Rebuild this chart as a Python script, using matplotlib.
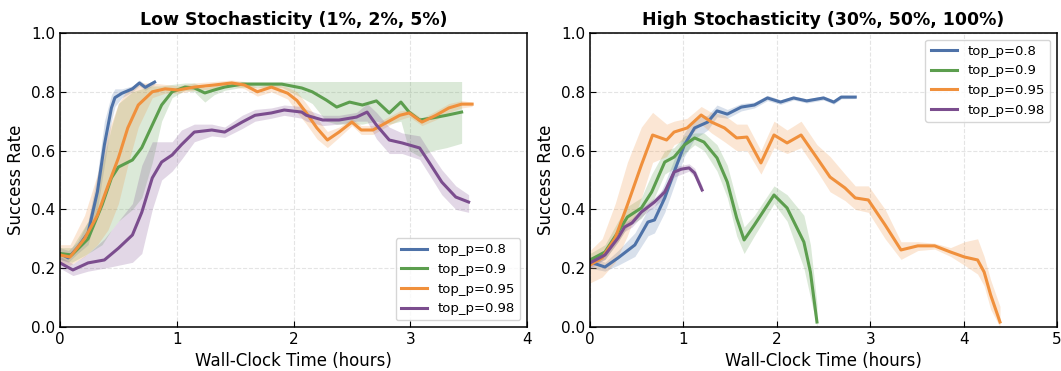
import matplotlib
matplotlib.use("Agg")
import matplotlib.pyplot as plt

# Style constants
COLORS = ["#4E72A8", "#5C9E4E", "#F0903C", "#7B4D8E"]
LABELS = ["top_p=0.8", "top_p=0.9", "top_p=0.95", "top_p=0.98"]
GRID_COLOR = "#d9d9d9"

# ---- Low stochasticity (left) ----
low_blue_t = [0.00, 0.07, 0.15, 0.24, 0.32, 0.38, 0.44, 0.47, 0.53, 0.62, 0.68, 0.73, 0.81]
low_blue_y = [0.25, 0.235, 0.27, 0.32, 0.46, 0.62, 0.745, 0.78, 0.795, 0.81, 0.83, 0.815, 0.833]
low_blue_lo = [0.23, 0.22, 0.25, 0.28, 0.40, 0.55, 0.70, 0.75, 0.78, 0.80, 0.82, 0.805, 0.825]
low_blue_hi = [0.27, 0.26, 0.29, 0.36, 0.52, 0.70, 0.79, 0.81, 0.81, 0.82, 0.84, 0.825, 0.84]

low_green_t = [0.00, 0.10, 0.24, 0.36, 0.44, 0.50, 0.62, 0.70, 0.79, 0.87, 0.96, 1.07, 1.15, 1.24,
               1.32, 1.41, 1.56, 1.73, 1.90, 2.07, 2.16, 2.28, 2.37, 2.48, 2.59, 2.71, 2.82, 2.92,
               2.99, 3.08, 3.19, 3.31, 3.44]
low_green_y = [0.25, 0.245, 0.30, 0.415, 0.507, 0.544, 0.568, 0.61, 0.687, 0.755, 0.80, 0.816, 0.813,
               0.796, 0.806, 0.816, 0.826, 0.826, 0.826, 0.813, 0.80, 0.772, 0.748, 0.765, 0.755,
               0.769, 0.728, 0.765, 0.731, 0.704, 0.711, 0.72, 0.731]
low_green_lo = [0.23, 0.22, 0.25, 0.28, 0.33, 0.36, 0.40, 0.44, 0.56, 0.70, 0.78, 0.805, 0.80, 0.765,
                0.79, 0.805, 0.815, 0.815, 0.815, 0.78, 0.76, 0.70, 0.69, 0.69, 0.69, 0.70, 0.69,
                0.70, 0.60, 0.58, 0.60, 0.61, 0.625]
low_green_hi = [0.27, 0.27, 0.36, 0.55, 0.68, 0.76, 0.80, 0.81, 0.82, 0.82, 0.825, 0.83, 0.83, 0.815,
                0.82, 0.83, 0.835, 0.835, 0.835, 0.835, 0.835, 0.835, 0.835, 0.835, 0.835, 0.835,
                0.835, 0.835, 0.835, 0.835, 0.835, 0.835, 0.835]

low_orange_t = [0.00, 0.085, 0.21, 0.32, 0.41, 0.50, 0.58, 0.67, 0.79, 0.90, 1.01, 1.15, 1.32, 1.47,
                1.58, 1.69, 1.81, 1.95, 2.03, 2.11, 2.20, 2.29, 2.39, 2.50, 2.58, 2.68, 2.79, 2.91,
                2.99, 3.10, 3.22, 3.33, 3.44, 3.53]
low_orange_y = [0.245, 0.238, 0.30, 0.38, 0.48, 0.575, 0.677, 0.755, 0.80, 0.81, 0.806, 0.816, 0.823,
                0.83, 0.823, 0.80, 0.816, 0.795, 0.77, 0.728, 0.677, 0.636, 0.663, 0.697, 0.67, 0.67,
                0.694, 0.72, 0.728, 0.697, 0.72, 0.745, 0.758, 0.758]
low_orange_lo = [0.22, 0.21, 0.24, 0.28, 0.33, 0.42, 0.55, 0.68, 0.78, 0.795, 0.795, 0.805, 0.81, 0.82,
                 0.81, 0.785, 0.80, 0.775, 0.73, 0.69, 0.64, 0.61, 0.645, 0.685, 0.655, 0.655, 0.68,
                 0.705, 0.715, 0.685, 0.705, 0.73, 0.745, 0.75]
low_orange_hi = [0.28, 0.28, 0.38, 0.52, 0.66, 0.76, 0.81, 0.83, 0.83, 0.825, 0.82, 0.83, 0.835, 0.84,
                 0.835, 0.815, 0.83, 0.815, 0.80, 0.76, 0.71, 0.665, 0.68, 0.71, 0.685, 0.685, 0.71,
                 0.735, 0.74, 0.71, 0.735, 0.76, 0.77, 0.765]

low_purple_t = [0.00, 0.11, 0.24, 0.38, 0.50, 0.62, 0.70, 0.79, 0.87, 0.96, 1.04, 1.15, 1.30, 1.41,
                1.56, 1.67, 1.81, 1.92, 2.07, 2.11, 2.25, 2.39, 2.54, 2.63, 2.71, 2.82, 2.93, 3.08,
                3.16, 3.27, 3.39, 3.50]
low_purple_y = [0.218, 0.194, 0.218, 0.228, 0.268, 0.313, 0.39, 0.507, 0.561, 0.585, 0.62, 0.663, 0.67,
                0.663, 0.697, 0.72, 0.728, 0.738, 0.731, 0.72, 0.704, 0.704, 0.714, 0.731, 0.687,
                0.636, 0.626, 0.609, 0.561, 0.493, 0.442, 0.425]
low_purple_lo = [0.20, 0.175, 0.19, 0.20, 0.21, 0.22, 0.25, 0.40, 0.50, 0.53, 0.57, 0.63, 0.65, 0.645,
                 0.675, 0.70, 0.71, 0.72, 0.71, 0.70, 0.685, 0.69, 0.70, 0.70, 0.64, 0.59, 0.59, 0.57,
                 0.52, 0.45, 0.40, 0.39]
low_purple_hi = [0.24, 0.215, 0.25, 0.30, 0.36, 0.42, 0.55, 0.63, 0.63, 0.63, 0.67, 0.69, 0.69, 0.68,
                 0.72, 0.74, 0.745, 0.755, 0.75, 0.74, 0.72, 0.72, 0.73, 0.76, 0.73, 0.68, 0.66, 0.65,
                 0.60, 0.535, 0.48, 0.45]

# ---- High stochasticity (right) ----
high_blue_t = [0.00, 0.16, 0.30, 0.48, 0.62, 0.69, 0.80, 0.90, 1.01, 1.12, 1.26, 1.36, 1.47, 1.62,
               1.76, 1.90, 2.04, 2.18, 2.32, 2.50, 2.61, 2.69, 2.84]
high_blue_y = [0.221, 0.204, 0.235, 0.279, 0.357, 0.364, 0.439, 0.527, 0.619, 0.677, 0.697, 0.735,
               0.724, 0.748, 0.755, 0.779, 0.765, 0.779, 0.769, 0.779, 0.765, 0.782, 0.782]
high_blue_lo = [0.20, 0.19, 0.21, 0.24, 0.31, 0.32, 0.39, 0.48, 0.58, 0.64, 0.67, 0.715, 0.71, 0.735,
                0.745, 0.77, 0.757, 0.772, 0.762, 0.772, 0.758, 0.776, 0.777]
high_blue_hi = [0.24, 0.22, 0.26, 0.32, 0.40, 0.41, 0.49, 0.57, 0.66, 0.71, 0.72, 0.755, 0.74, 0.76,
                0.765, 0.788, 0.773, 0.786, 0.776, 0.786, 0.772, 0.788, 0.787]

high_green_t = [0.00, 0.16, 0.30, 0.40, 0.55, 0.66, 0.80, 0.90, 1.01, 1.12, 1.22, 1.36, 1.47, 1.57,
                1.65, 1.76, 1.97, 2.11, 2.29, 2.36, 2.43]
high_green_y = [0.228, 0.255, 0.323, 0.374, 0.405, 0.459, 0.561, 0.578, 0.619, 0.643, 0.629, 0.575,
                0.493, 0.371, 0.296, 0.347, 0.449, 0.405, 0.289, 0.187, 0.017]
high_green_lo = [0.21, 0.23, 0.29, 0.34, 0.37, 0.42, 0.52, 0.54, 0.59, 0.62, 0.60, 0.53, 0.44, 0.31,
                 0.25, 0.31, 0.42, 0.36, 0.20, 0.10, 0.00]
high_green_hi = [0.25, 0.28, 0.36, 0.41, 0.44, 0.52, 0.60, 0.61, 0.65, 0.66, 0.66, 0.62, 0.55, 0.43,
                 0.34, 0.38, 0.48, 0.45, 0.38, 0.28, 0.08]

high_orange_t = [0.00, 0.13, 0.27, 0.40, 0.55, 0.67, 0.82, 0.90, 1.04, 1.19, 1.30, 1.44, 1.57, 1.68,
                 1.83, 1.97, 2.11, 2.26, 2.43, 2.57, 2.73, 2.84, 2.98, 3.16, 3.33, 3.51, 3.69, 3.86,
                 4.01, 4.15, 4.22, 4.29, 4.39]
high_orange_y = [0.211, 0.235, 0.303, 0.415, 0.551, 0.653, 0.636, 0.663, 0.677, 0.721, 0.697, 0.677,
                 0.643, 0.646, 0.558, 0.653, 0.626, 0.653, 0.575, 0.51, 0.473, 0.439, 0.432, 0.347,
                 0.262, 0.276, 0.276, 0.255, 0.238, 0.228, 0.187, 0.109, 0.017]
high_orange_lo = [0.15, 0.17, 0.22, 0.31, 0.44, 0.56, 0.58, 0.62, 0.64, 0.69, 0.66, 0.63, 0.60, 0.60,
                  0.52, 0.61, 0.59, 0.61, 0.53, 0.46, 0.43, 0.40, 0.39, 0.30, 0.23, 0.26, 0.265,
                  0.24, 0.21, 0.18, 0.14, 0.06, 0.00]
high_orange_hi = [0.26, 0.30, 0.42, 0.56, 0.68, 0.73, 0.69, 0.70, 0.71, 0.75, 0.73, 0.72, 0.69, 0.69,
                  0.60, 0.70, 0.67, 0.70, 0.62, 0.58, 0.52, 0.48, 0.48, 0.40, 0.29, 0.29, 0.285,
                  0.27, 0.29, 0.30, 0.24, 0.16, 0.07]

high_purple_t = [0.00, 0.16, 0.30, 0.37, 0.45, 0.55, 0.69, 0.80, 0.90, 0.98, 1.06, 1.12, 1.20]
high_purple_y = [0.218, 0.245, 0.303, 0.34, 0.354, 0.391, 0.425, 0.459, 0.527, 0.537, 0.541, 0.524, 0.466]
high_purple_lo = [0.20, 0.23, 0.29, 0.325, 0.34, 0.375, 0.41, 0.44, 0.51, 0.52, 0.53, 0.51, 0.455]
high_purple_hi = [0.235, 0.26, 0.32, 0.355, 0.37, 0.405, 0.44, 0.475, 0.545, 0.55, 0.555, 0.54, 0.48]


def _apply_style(ax, title, xmax):
    ax.set_xlim(0, xmax)
    ax.set_ylim(0, 1.0)
    ax.set_xticks(range(0, xmax + 1))
    ax.set_yticks([0.0, 0.2, 0.4, 0.6, 0.8, 1.0])
    ax.grid(True, color=GRID_COLOR, linestyle="--", linewidth=0.8, alpha=0.7)
    ax.set_axisbelow(True)
    ax.tick_params(direction="in", labelsize=11, length=4)
    for s in ax.spines.values():
        s.set_linewidth(1.1)
    ax.set_title(title, fontsize=12.5, fontweight="bold")
    ax.set_xlabel("Wall-Clock Time (hours)", fontsize=12)
    ax.set_ylabel("Success Rate", fontsize=12)


def _draw(ax, series):
    for (t, y, lo, hi), color, label in zip(series, COLORS, LABELS):
        ax.fill_between(t, lo, hi, color=color, alpha=0.22, linewidth=0)
        ax.plot(t, y, color=color, linewidth=2.2, label=label)


fig = plt.figure(figsize=(10.61, 3.71), dpi=100)
ax1 = fig.add_axes([0.0566, 0.1186, 0.4401, 0.7925])
ax2 = fig.add_axes([0.5561, 0.1186, 0.4401, 0.7925])

_draw(ax1, [
    (low_blue_t, low_blue_y, low_blue_lo, low_blue_hi),
    (low_green_t, low_green_y, low_green_lo, low_green_hi),
    (low_orange_t, low_orange_y, low_orange_lo, low_orange_hi),
    (low_purple_t, low_purple_y, low_purple_lo, low_purple_hi),
])
_apply_style(ax1, "Low Stochasticity (1%, 2%, 5%)", 4)
ax1.legend(loc="lower right", fontsize=9.5)

_draw(ax2, [
    (high_blue_t, high_blue_y, high_blue_lo, high_blue_hi),
    (high_green_t, high_green_y, high_green_lo, high_green_hi),
    (high_orange_t, high_orange_y, high_orange_lo, high_orange_hi),
    (high_purple_t, high_purple_y, high_purple_lo, high_purple_hi),
])
_apply_style(ax2, "High Stochasticity (30%, 50%, 100%)", 5)
ax2.legend(loc="upper right", fontsize=9.5)

fig.savefig("out.png", dpi=100)
